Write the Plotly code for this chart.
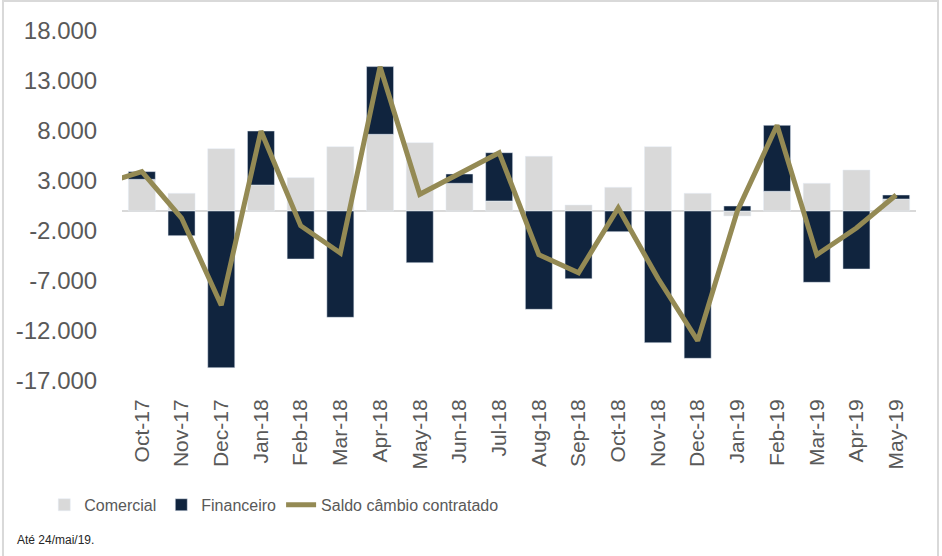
import plotly.graph_objects as go

# monthly FX flows (US$ mi)
months = ["Oct-17", "Nov-17", "Dec-17", "Jan-18", "Feb-18", "Mar-18", "Apr-18",
          "May-18", "Jun-18", "Jul-18", "Aug-18", "Sep-18", "Oct-18", "Nov-18",
          "Dec-18", "Jan-19", "Feb-19", "Mar-19", "Apr-19", "May-19"]
comercial = [3170, 1770, 6230, 2600, 3330, 6430, 7670, 6830, 2770, 1000,
             5470, 600, 2370, 6430, 1770, -500, 1970, 2770, 4100, 1200]
financeiro = [770, -2470, -15670, 5400, -4800, -10630, 6770, -5170, 930, 4830,
              -9830, -6770, -2070, -13170, -14730, 500, 6600, -7130, -5800, 400]
# line starts half a month before the first bar (previous month's value)
saldo_months = ["Sep-17"] + months
saldo = [2700, 3940, -700, -9430, 8000, -1470, -4200, 14430, 1670, 3700, 5830,
         -4370, -6170, 300, -6730, -12970, 0, 8570, -4370, -1700, 1600]

y_ticks = list(range(-17000, 18001, 5000))
y_labels = [f"{v:,}".replace(",", ".") for v in y_ticks]

GRAY = "#D9D9D9"
NAVY = "#10243E"
OLIVE = "#948A54"
TEXT = "#595959"

fig = go.Figure()
fig.add_trace(go.Bar(x=months, y=comercial, name="Comercial", marker_color=GRAY))
fig.add_trace(go.Bar(x=months, y=financeiro, name="Financeiro", marker_color=NAVY))
fig.add_trace(go.Scatter(
    x=saldo_months, y=saldo, name="Saldo câmbio contratado",
    mode="lines", line=dict(color=OLIVE, width=5),
))

fig.update_layout(
    width=942, height=556,
    margin=dict(l=122, r=26, t=31, b=175),
    barmode="relative", bargap=0.32,
    paper_bgcolor="white", plot_bgcolor="white",
    font=dict(family="Liberation Sans, Arial, sans-serif", color=TEXT),
    xaxis=dict(
        type="category", categoryorder="array", categoryarray=saldo_months,
        range=[0.5, 20.5], tickangle=-90, showgrid=False, showline=False,
        ticks="outside", ticklen=9, tickcolor="rgba(0,0,0,0)",
        tickfont=dict(size=21), automargin=False,
    ),
    yaxis=dict(
        range=[-17000, 18000], tickvals=y_ticks, ticktext=y_labels,
        showgrid=False, zeroline=True, zerolinecolor=GRAY, zerolinewidth=2,
        ticks="outside", ticklen=19, tickcolor="rgba(0,0,0,0)",
        tickfont=dict(size=24), automargin=False,
    ),
    legend=dict(
        orientation="h", xref="container", yref="container",
        x=0.047, xanchor="left", y=0.092, yanchor="middle",
        font=dict(size=16), traceorder="normal",
    ),
    showlegend=True,
)

fig.add_annotation(
    text="Até 24/mai/19.", xref="paper", yref="paper",
    x=-0.135, y=-0.455, xanchor="left", yanchor="middle", showarrow=False,
    font=dict(size=12, color="#262626"),
)
# chart frame
fig.add_shape(
    type="rect", xref="paper", yref="paper",
    x0=-0.1499, x1=1.0277, y0=-0.6, y1=1.0857,
    line=dict(color=GRAY, width=2), fillcolor="rgba(0,0,0,0)", layer="below",
)

# drop the browser's default page margin so the figure sits at the window corner
fig.write_html(
    "out.html",
    config={"displayModeBar": False},
    post_script="document.body.style.margin = '0';",
)
